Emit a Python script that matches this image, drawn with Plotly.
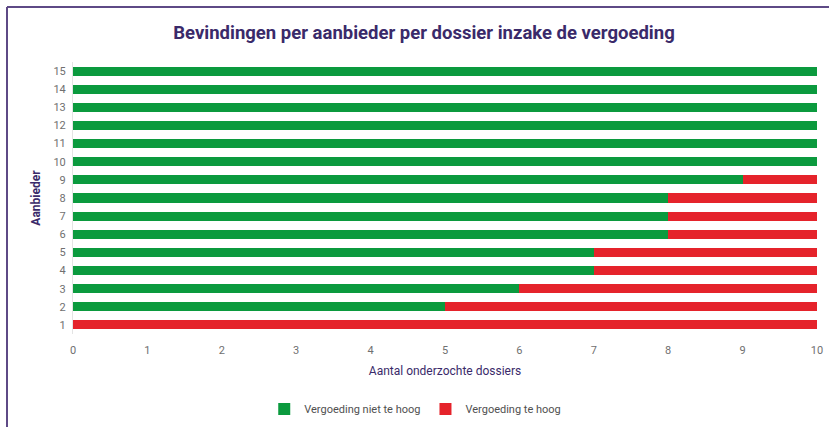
import plotly.graph_objects as go

providers = [str(i) for i in range(1, 16)]
niet_te_hoog = [0, 5, 6, 7, 7, 8, 8, 8, 9, 10, 10, 10, 10, 10, 10]
te_hoog = [10, 5, 4, 3, 3, 2, 2, 2, 1, 0, 0, 0, 0, 0, 0]
x_ticks = list(range(0, 11))

W, H = 829, 427
L, R, T, B = 73, 12, 62, 93
pw, ph = W - L - R, H - T - B

fig = go.Figure()
fig.add_trace(go.Bar(y=providers, x=niet_te_hoog, orientation="h",
                     name="Vergoeding niet te hoog", marker=dict(color="#0b9a3e", line_width=0)))
fig.add_trace(go.Bar(y=providers, x=te_hoog, orientation="h",
                     name="Vergoeding te hoog", marker=dict(color="#e5232b", line_width=0)))

font_fam = "Liberation Sans Narrow, Arial Narrow, Roboto, sans-serif"

def px_to_paper_x(px):
    return (px - L) / pw

def px_to_paper_y(py):
    return 1 - (py - T) / ph

fig.update_layout(
    width=W, height=H,
    barmode="stack", bargap=0.5,
    margin=dict(l=L, r=R, t=T, b=B, autoexpand=False),
    paper_bgcolor="white", plot_bgcolor="white",
    title=dict(text="<b>Bevindingen per aanbieder per dossier inzake de vergoeding</b>",
               x=424 / W, xanchor="center", y=1 - 33 / H, yanchor="middle",
               font=dict(family=font_fam, size=18.5, color="#3a2a6a")),
    xaxis=dict(range=[0, 10], tickvals=x_ticks, showgrid=False, zeroline=False,
               showline=False, ticks="", automargin=False, ticklabelstandoff=8,
               tickfont=dict(family=font_fam, size=11, color="#707070"),
               title=dict(text="Aantal onderzochte dossiers", standoff=10,
                          font=dict(family=font_fam, size=12, color="#3a2a6a"))),
    yaxis=dict(categoryorder="array", categoryarray=providers, showgrid=False,
               zeroline=False, showline=True, linecolor="#e4e4e4", ticks="", automargin=False,
               ticklabelstandoff=4,
               tickfont=dict(family=font_fam, size=11, color="#707070"),
               title=dict(text="<b>Aanbieder</b>", standoff=10,
                          font=dict(family=font_fam, size=12, color="#3a2a6a"))),
    legend=dict(orientation="h", x=0.46, xanchor="center", y=px_to_paper_y(409), yanchor="middle",
                font=dict(family=font_fam, size=11, color="#505050"),
                itemwidth=30, traceorder="normal"),
    shapes=[
        dict(type="line", xref="paper", yref="paper",
             x0=px_to_paper_x(7), x1=px_to_paper_x(W + 5),
             y0=px_to_paper_y(7), y1=px_to_paper_y(7),
             line=dict(color="#5e4a86", width=2)),
        dict(type="line", xref="paper", yref="paper",
             x0=px_to_paper_x(7), x1=px_to_paper_x(7),
             y0=px_to_paper_y(7), y1=px_to_paper_y(H + 5),
             line=dict(color="#5e4a86", width=2)),
    ],
)

fig.write_html("out.html", config={"displayModeBar": False},
               post_script="document.body.style.margin='0';document.body.style.overflow='hidden';")
